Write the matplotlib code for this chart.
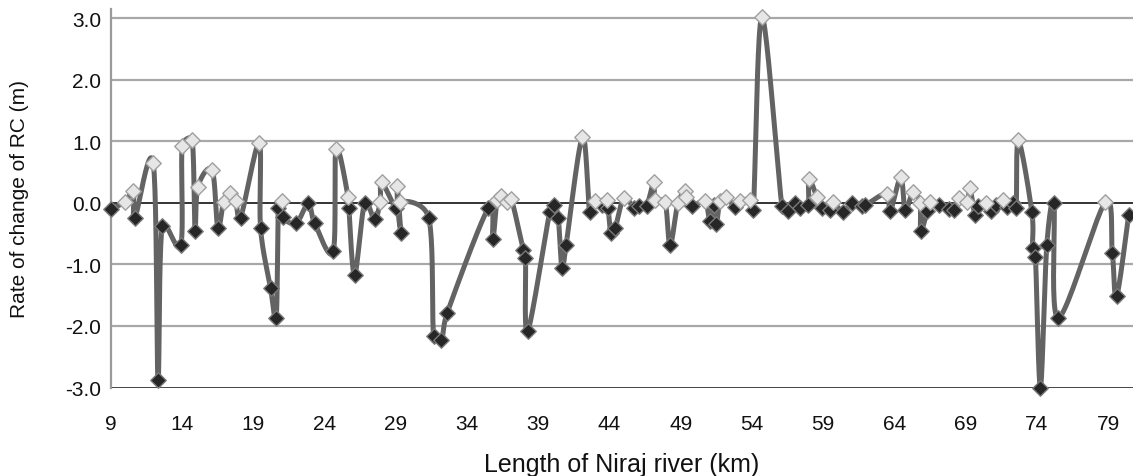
import numpy as np
import matplotlib
matplotlib.use("Agg")
import matplotlib.pyplot as plt
from matplotlib import font_manager

# ---------------- data ----------------
km = [9.0, 10.0, 10.57, 10.68, 11.97, 12.3, 12.6, 13.9, 14.0, 14.7, 14.9, 15.1,
      16.1, 16.5, 16.9, 17.35, 17.75, 18.1, 19.4, 19.5, 20.2, 20.6, 20.75, 21.0,
      21.05, 22.0, 22.85, 23.3, 24.6, 24.8, 25.65, 25.7, 26.1, 26.8, 27.5, 27.9,
      28.0, 29.0, 29.1, 29.35, 29.3, 31.3, 31.65, 32.2, 32.6, 35.5, 35.8, 36.1,
      36.4, 36.8, 37.1, 37.95, 38.1, 38.25, 39.8, 40.1, 40.4, 40.65, 40.95, 42.1,
      42.6, 42.95, 43.45, 43.8, 43.9, 44.1, 44.4, 45.0, 45.7, 46.05, 46.6, 47.1,
      47.2, 47.9, 48.25, 48.8, 49.3, 49.4, 49.8, 50.7, 51.05, 51.3, 51.5, 51.75,
      52.2, 52.8, 53.15, 53.85, 54.1, 54.7, 56.1, 56.55, 57.0, 57.4, 57.95, 58.0,
      58.55, 58.9, 59.5, 59.7, 60.4, 61.0, 61.7, 61.95, 63.45, 63.7, 64.45, 64.75,
      65.3, 65.8, 65.85, 66.3, 66.5, 67.1, 67.8, 68.2, 68.5, 69.1, 69.3, 69.65,
      69.9, 70.4, 70.75, 71.1, 71.65, 71.9, 72.35, 72.55, 72.7, 73.65, 73.7, 73.9,
      74.25, 74.7, 75.2, 75.5, 78.8, 79.3, 79.6, 80.45]
change = [-0.10, 0.02, 0.19, -0.24, 0.64, -2.88, -0.37, -0.69, 0.93, 1.02, -0.46, 0.26,
          0.53, -0.41, 0.01, 0.16, 0.03, -0.24, 0.98, -0.41, -1.38, -1.87, -0.08, 0.03,
          -0.23, -0.33, -0.01, -0.33, -0.79, 0.88, 0.10, -0.08, -1.17, -0.01, -0.27, 0.02,
          0.34, -0.08, 0.27, -0.49, 0.01, -0.24, -2.16, -2.23, -1.79, -0.08, -0.59, 0.05,
          0.11, 0.01, 0.07, -0.77, -0.89, -2.09, -0.15, -0.03, -0.24, -1.06, -0.68, 1.07,
          -0.15, 0.03, -0.03, 0.05, -0.08, -0.49, -0.41, 0.08, -0.08, -0.05, -0.05, 0.34,
          0.05, 0.02, -0.69, 0.00, 0.19, 0.10, -0.05, 0.03, -0.30, -0.03, -0.35, 0.03,
          0.10, -0.07, 0.03, 0.05, -0.11, 3.02, -0.05, -0.14, -0.01, -0.08, -0.03, 0.39,
          0.10, -0.08, -0.11, 0.01, -0.15, -0.01, -0.05, -0.04, 0.15, -0.14, 0.42, -0.12,
          0.17, 0.00, -0.46, -0.14, 0.01, -0.04, -0.10, -0.11, 0.08, 0.01, 0.24, -0.19,
          -0.05, 0.00, -0.14, -0.03, 0.05, -0.07, -0.01, -0.08, 1.02, -0.15, -0.73, -0.88,
          -3.00, -0.68, -0.01, -1.87, 0.01, -0.81, -1.52, -0.19]
x_ticks = [9, 14, 19, 24, 29, 34, 39, 44, 49, 54, 59, 64, 69, 74, 79]
y_ticks = [-3.0, -2.0, -1.0, 0.0, 1.0, 2.0, 3.0]
x_label = "Length of Niraj river (km)"
y_label = "Rate of change of RC (m)"

# ---------------- font ----------------
names = {f.name for f in font_manager.fontManager.ttflist}
fam = ["Liberation Sans Narrow", "DejaVu Sans"] if "Liberation Sans Narrow" in names else ["Liberation Sans", "DejaVu Sans"]
plt.rcParams["font.family"] = fam


def smooth_display(P, n=24, clamp=0.5):
    """Excel-like smoothed line in display space (Catmull-Rom Bezier with
    control-vector clamping to avoid large overshoots)."""
    E = np.vstack([P[0], P, P[-1]])
    t = np.linspace(0, 1, n)[:, None]
    out = []
    for i in range(len(P) - 1):
        p0, p1, p2, p3 = E[i], E[i + 1], E[i + 2], E[i + 3]
        seglen = np.hypot(*(p2 - p1))
        d1 = (p2 - p0) / 6.0
        d2 = (p3 - p1) / 6.0
        for d in (d1, d2):
            L = np.hypot(*d)
            lim = clamp * seglen
            if L > lim and L > 0:
                d *= lim / L
        c1 = p1 + d1
        c2 = p2 - d2
        seg = (1 - t) ** 3 * p1 + 3 * (1 - t) ** 2 * t * c1 + 3 * (1 - t) * t ** 2 * c2 + t ** 3 * p2
        out.append(seg if i == 0 else seg[1:])
    return np.vstack(out)


W, H = 1133, 477
fig = plt.figure(figsize=(W / 100, H / 100), dpi=100)
fig.patch.set_facecolor("white")
left_px, right_px, top_px, bot_px = 111, 1133, 10, 388.5
ax = fig.add_axes([left_px / W, 1 - bot_px / H, (right_px - left_px) / W, (bot_px - top_px) / H])

ax.set_xlim(9, 80.75)
ax.set_ylim(-3.0, 3.15)

for yv in y_ticks:
    if yv == 0.0:
        ax.axhline(yv, color="#111111", lw=1.2, zorder=1)
    elif yv == -3.0:
        ax.axhline(yv, color="#333333", lw=2.0, zorder=1)
    else:
        ax.axhline(yv, color="#a8a8a8", lw=1.6, zorder=1)

kx = np.array(km, dtype=float)
cy = np.array(change, dtype=float)
disp = ax.transData.transform(np.column_stack([kx, cy]))
curve = ax.transData.inverted().transform(smooth_display(disp))
ax.plot(curve[:, 0], curve[:, 1], color="#636363", lw=3.6, solid_capstyle="round",
        solid_joinstyle="round", zorder=3, clip_on=False)

pos = cy >= 0
ax.scatter(kx[~pos], cy[~pos], marker="D", s=62, facecolor="#262626",
           edgecolor="#7a7a7a", linewidths=1.0, zorder=4, clip_on=False)
ax.scatter(kx[pos], cy[pos], marker="D", s=62, facecolor="#e6e6e6",
           edgecolor="#a0a0a0", linewidths=1.0, zorder=5, clip_on=False)

ax.set_xticks(x_ticks)
ax.set_xticklabels([str(v) for v in x_ticks])
ax.set_yticks(y_ticks)
ax.set_yticklabels([f"{v:.1f}" for v in y_ticks])
ax.tick_params(axis="both", length=0, labelsize=15, colors="#111111")
ax.tick_params(axis="x", pad=19)
ax.tick_params(axis="y", pad=7)

for s in ["top", "right", "bottom"]:
    ax.spines[s].set_visible(False)
ax.spines["left"].set_color("#9a9a9a")
ax.spines["left"].set_linewidth(1.6)

ax.set_xlabel(x_label, fontsize=18, color="#111111", labelpad=14)
ax.set_ylabel(y_label, fontsize=15, color="#111111", labelpad=26)

fig.savefig("out.png", dpi=100, facecolor="white")
